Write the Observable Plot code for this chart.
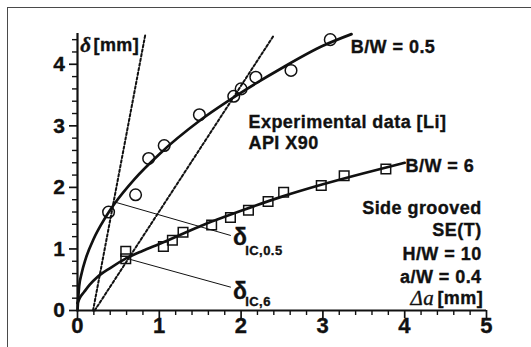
<!DOCTYPE html>
<html>
<head>
<meta charset="utf-8">
<script src="https://cdn.jsdelivr.net/npm/d3@7"></script>
<script src="https://cdn.jsdelivr.net/npm/@observablehq/plot@0.6"></script>
<style>
  html, body { margin: 0; padding: 0; background: #fff; }
  #wrap { position: relative; width: 531px; height: 347px; overflow: hidden; }
  #frame { position: absolute; left: 7px; top: 7px; width: 600px; height: 400px;
           border-top: 1.6px solid #4a4a4a; border-left: 1.6px solid #4a4a4a; }
  #chart { position: absolute; left: 0; top: 0; }
  #chart svg text { letter-spacing: 0.45px; stroke: #111; stroke-width: 0.35px; }
</style>
</head>
<body>
<div id="wrap"><div id="frame"></div><div id="chart"></div></div>
<script>
// ---- data ----
const circleX = [0.38, 0.71, 0.87, 1.06, 1.49, 1.91, 2.00, 2.18, 2.61, 3.09];
const circleY = [1.60, 1.88, 2.47, 2.68, 3.18, 3.48, 3.60, 3.79, 3.90, 4.40];

const squareX = [0.59, 0.59, 1.05, 1.16, 1.29, 1.64, 1.87, 2.09, 2.33, 2.52, 2.98, 3.26, 3.77];
const squareY = [0.84, 0.96, 1.04, 1.14, 1.27, 1.39, 1.51, 1.63, 1.77, 1.92, 2.03, 2.19, 2.30];

const fit05X = [0, 0.02, 0.05, 0.1, 0.2, 0.3, 0.45, 0.7, 1.0, 1.5, 2.0, 2.5, 3.0, 3.35];
const fit05Y = [0, 0.39, 0.60, 0.84, 1.17, 1.42, 1.73, 2.14, 2.54, 3.09, 3.54, 3.94, 4.30, 4.49];

const fit6X = [0, 0.03, 0.08, 0.15, 0.24, 0.4, 0.6, 0.8, 1.0, 1.5, 2.0, 2.5, 3.0, 3.5, 4.0];
const fit6Y = [0.12, 0.21, 0.30, 0.42, 0.54, 0.69, 0.85, 0.97, 1.08, 1.37, 1.62, 1.85, 2.05, 2.23, 2.40];

// blunting (dotted) lines: start and end points
const bluntSteepX = [0.19, 0.83];
const bluntSteepY = [0, 4.49];
const bluntShallowX = [0.21, 2.40];
const bluntShallowY = [0, 4.47];

// leader lines to delta_IC labels
const leader05X = [0.46, 1.87];
const leader05Y = [1.76, 1.22];
const leader6X = [0.59, 1.87];
const leader6Y = [0.85, 0.38];

const xTicks = [0, 1, 2, 3, 4, 5];
const yTicks = [0, 1, 2, 3, 4];
const xMinor = [0.2,0.4,0.6,0.8,1.2,1.4,1.6,1.8,2.2,2.4,2.6,2.8,3.2,3.4,3.6,3.8,4.2,4.4,4.6,4.8];
const yMinor = [0.2,0.4,0.6,0.8,1.2,1.4,1.6,1.8,2.2,2.4,2.6,2.8,3.2,3.4,3.6,3.8,4.2,4.4];

// annotations
const leftNotes = ["Experimental data [Li]", "API X90"];
const leftNotesX = [2.09, 2.09];
const leftNotesY = [3.065, 2.725];
const seriesNotes = ["B/W = 0.5", "B/W = 6"];
const seriesNotesX = [3.34, 4.01];
const seriesNotesY = [4.28, 2.35];
const rightNotes = ["Side grooved", "SE(T)", "H/W = 10", "a/W = 0.4"];
const rightNotesX = [4.94, 4.94, 4.94, 4.94];
const rightNotesY = [1.665, 1.30, 0.91, 0.545];
const deltaSubs = ["IC,0.5", "IC,6"];
const deltaX = [1.90, 1.90];
const deltaY = [1.19, 0.30];
const subX = [2.05, 2.05];
const subY = [0.975, 0.145];

const SANS = '"Liberation Sans", Arial, Helvetica, sans-serif';
const SERIF = '"Liberation Serif", "Times New Roman", serif';

const toPts = (xs, ys) => xs.map((x, i) => ({x, y: ys[i]}));

const chart = Plot.plot({
  width: 531,
  height: 347,
  marginLeft: 77,
  marginRight: 45,
  marginTop: 33,
  marginBottom: 37,
  x: {domain: [0, 5]},
  y: {domain: [0, 4.5]},
  style: {fontFamily: SANS, background: "transparent", overflow: "visible", color: "#111"},
  marks: [
    // axis ticks
    Plot.axisX({ticks: xMinor, tickSize: 5, tickFormat: () => "", strokeWidth: 1.4, label: null}),
    Plot.axisX({ticks: xTicks, tickSize: 8, tickFormat: () => "", strokeWidth: 1.7, label: null}),
    Plot.axisY({ticks: yMinor, tickSize: 5, tickFormat: () => "", strokeWidth: 1.4, label: null}),
    Plot.axisY({ticks: yTicks, tickSize: 8, tickFormat: () => "", strokeWidth: 1.7, label: null}),
    Plot.ruleY([0], {strokeWidth: 2.2}),
    Plot.ruleX([0], {strokeWidth: 2.2}),
    // tick labels
    Plot.text(xTicks, {x: d => d, frameAnchor: "bottom", dy: 22, text: d => String(d),
      fontSize: 22, fontWeight: "bold", fill: "#111"}),
    Plot.text(yTicks, {y: d => d, frameAnchor: "left", dx: -12, textAnchor: "end", text: d => String(d),
      fontSize: 21, fontWeight: "bold", fill: "#111"}),
    // blunting lines
    Plot.line(toPts(bluntSteepX, bluntSteepY), {x: "x", y: "y", stroke: "#111", strokeWidth: 2, strokeDasharray: "2.5,2.2"}),
    Plot.line(toPts(bluntShallowX, bluntShallowY), {x: "x", y: "y", stroke: "#111", strokeWidth: 2, strokeDasharray: "2.5,2.2"}),
    // leader lines
    Plot.line(toPts(leader05X, leader05Y), {x: "x", y: "y", stroke: "#111", strokeWidth: 1}),
    Plot.line(toPts(leader6X, leader6Y), {x: "x", y: "y", stroke: "#111", strokeWidth: 1}),
    // fits
    Plot.line(toPts(fit05X, fit05Y), {x: "x", y: "y", curve: "monotone-x", stroke: "#111", strokeWidth: 2.7}),
    Plot.line(toPts(fit6X, fit6Y), {x: "x", y: "y", curve: "monotone-x", stroke: "#111", strokeWidth: 2.7}),
    // data points
    Plot.dot(toPts(circleX, circleY), {x: "x", y: "y", r: 5.8, stroke: "#111", strokeWidth: 1.5, fill: "none"}),
    Plot.dot(toPts(squareX, squareY), {x: "x", y: "y", r: 5.4, symbol: "square", stroke: "#111", strokeWidth: 1.5, fill: "none"}),
    // axis titles
    Plot.text(["δ"], {x: [0.035], y: [4.31], text: d => d, textAnchor: "start", fontFamily: SERIF,
      fontStyle: "italic", fontWeight: "bold", fontSize: 21, fill: "#111"}),
    Plot.text(["[mm]"], {x: [0.195], y: [4.31], text: d => d, textAnchor: "start", fontWeight: "bold", fontSize: 18, fill: "#111"}),
    Plot.text(["Δa"], {x: [4.36], y: [0.195], text: d => d, textAnchor: "end", fontFamily: SERIF,
      fontStyle: "italic", fontSize: 21, fill: "#111"}),
    Plot.text(["[mm]"], {x: [4.96], y: [0.20], text: d => d, textAnchor: "end", fontWeight: "bold", fontSize: 18, fill: "#111"}),
    // annotations
    Plot.text(leftNotes, {x: leftNotesX, y: leftNotesY, text: d => d, textAnchor: "start", fontWeight: "bold", fontSize: 18, fill: "#111"}),
    Plot.text(seriesNotes, {x: seriesNotesX, y: seriesNotesY, text: d => d, textAnchor: "start", fontWeight: "bold", fontSize: 18, fill: "#111"}),
    Plot.text(rightNotes, {x: rightNotesX, y: rightNotesY, text: d => d, textAnchor: "end", fontWeight: "bold", fontSize: 18, fill: "#111"}),
    Plot.text(deltaSubs, {x: deltaX, y: deltaY, text: () => "δ", textAnchor: "start", fontWeight: "bold", fontSize: 23, fill: "#111"}),
    Plot.text(deltaSubs, {x: subX, y: subY, text: d => d, textAnchor: "start", fontWeight: "bold", fontSize: 13, fill: "#111"})
  ]
});
document.getElementById("chart").appendChild(chart);
</script>
</body>
</html>
